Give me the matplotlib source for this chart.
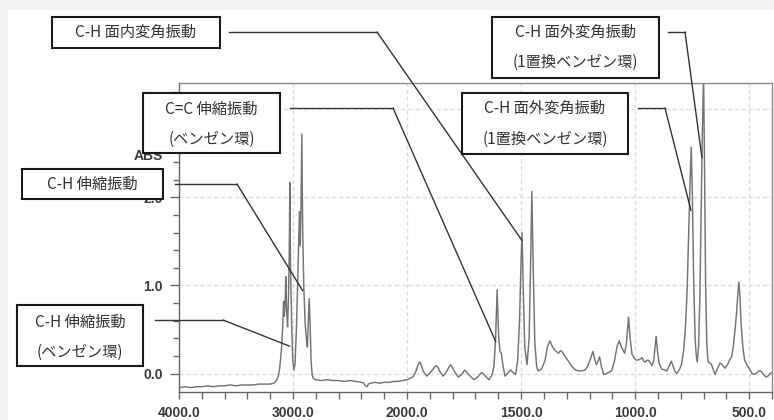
import numpy as np
import matplotlib.pyplot as plt
from matplotlib.patches import Rectangle
from matplotlib.lines import Line2D
from matplotlib.ticker import FixedLocator, FixedFormatter

# spectrum (wavenumber cm-1, absorbance)
wavenumber = [4000, 3950, 3900, 3850, 3800, 3750, 3700, 3650, 3600, 3550, 3500, 3450, 3400, 3350, 3300,
              3250, 3200, 3170, 3150, 3135, 3120, 3110, 3100, 3090, 3083, 3076, 3070, 3063, 3056, 3048,
              3040, 3033, 3028, 3022, 3012, 3002, 2993, 2983, 2972, 2962, 2950, 2944, 2937, 2930, 2923,
              2915, 2905, 2893, 2880, 2874, 2866, 2858, 2850, 2842, 2832, 2820, 2800, 2750, 2700, 2650,
              2600, 2550, 2500, 2450, 2400, 2380, 2365, 2350, 2340, 2320, 2280, 2240, 2200, 2150, 2122,
              2080, 2040, 2000, 1975, 1962, 1952, 1944, 1937, 1930, 1914, 1895, 1880, 1872, 1864, 1858,
              1842, 1825, 1815, 1809, 1802, 1792, 1775, 1760, 1750, 1746, 1740, 1727, 1707, 1690, 1678,
              1673, 1667, 1657, 1641, 1628, 1619, 1612, 1605, 1599, 1593, 1587, 1580, 1571, 1560, 1546,
              1535, 1524, 1515, 1507, 1500, 1496, 1491, 1484, 1474, 1465, 1458, 1453, 1447, 1440, 1432,
              1426, 1410, 1395, 1385, 1374, 1362, 1350, 1336, 1328, 1321, 1306, 1290, 1277, 1262, 1248,
              1233, 1219, 1207, 1197, 1185, 1176, 1170, 1163, 1156, 1148, 1138, 1125, 1110, 1102, 1090,
              1080, 1070, 1060, 1046, 1038, 1029, 1022, 1014, 1003, 992, 980, 970, 962, 955, 948,
              941, 933, 926, 918, 913, 908, 902, 895, 883, 872, 861, 852, 842, 833, 825,
              817, 805, 797, 788, 780, 772, 765, 759, 754, 749, 743, 737, 732, 728, 722,
              716, 711, 705, 700, 696, 691, 686, 682, 679, 672, 665, 657, 650, 640, 628,
              618, 606, 595, 585, 577, 570, 566, 560, 555, 550, 545, 540, 535, 528, 520,
              510, 498, 487, 476, 465, 457, 450, 440, 427, 418, 408, 400]
absorbance = [-0.16, -0.15, -0.16, -0.15, -0.15, -0.14, -0.15, -0.14, -0.14, -0.13, -0.14, -0.13, -0.13, -0.13, -0.12,
              -0.12, -0.12, -0.11, -0.09, -0.05, 0.03, 0.15, 0.30, 0.55, 0.82, 0.65, 0.80, 1.10, 0.70, 0.53,
              0.85, 1.40, 2.17, 1.20, 0.55, 0.15, 0.04, 0.10, 0.45, 0.90, 1.50, 1.84, 1.45, 1.90, 2.72,
              1.60, 0.95, 0.55, 0.35, 0.30, 0.60, 0.85, 0.55, 0.15, -0.02, -0.06, -0.07, -0.08, -0.07, -0.08,
              -0.08, -0.09, -0.08, -0.09, -0.10, -0.11, -0.14, -0.15, -0.12, -0.11, -0.10, -0.11, -0.10, -0.10, -0.09,
              -0.09, -0.08, -0.07, -0.04, 0.02, 0.10, 0.13, 0.09, 0.03, -0.03, 0.02, 0.07, 0.09, 0.07, 0.03,
              -0.03, 0.03, 0.08, 0.10, 0.07, 0.02, -0.04, -0.01, 0.03, 0.04, 0.02, -0.02, -0.07, -0.04, 0.00,
              0.01, 0.00, -0.03, -0.07, -0.02, 0.08, 0.40, 0.95, 0.45, 0.25, 0.23, 0.10, -0.03, 0.00, 0.04,
              0.01, -0.01, 0.15, 0.60, 1.30, 1.60, 1.00, 0.30, 0.10, 0.40, 1.30, 2.07, 1.20, 0.35, 0.08,
              0.03, 0.05, 0.15, 0.30, 0.37, 0.30, 0.26, 0.23, 0.26, 0.25, 0.19, 0.13, 0.08, 0.04, 0.03,
              0.03, 0.04, 0.09, 0.16, 0.25, 0.15, 0.10, 0.14, 0.19, 0.08, -0.01, 0.00, 0.02, 0.04, 0.15,
              0.30, 0.37, 0.30, 0.23, 0.35, 0.64, 0.40, 0.22, 0.17, 0.15, 0.16, 0.18, 0.14, 0.13, 0.15,
              0.15, 0.12, 0.09, 0.15, 0.30, 0.42, 0.25, 0.12, 0.05, 0.04, 0.03, 0.08, 0.14, 0.08, 0.02,
              0.00, 0.05, 0.10, 0.25, 0.50, 0.95, 1.60, 2.20, 2.57, 2.00, 1.00, 0.40, 0.20, 0.13, 0.30,
              0.90, 1.80, 2.80, 3.40, 2.40, 1.00, 0.35, 0.18, 0.13, 0.12, 0.10, 0.04, -0.01, 0.05, 0.12,
              0.10, 0.06, 0.10, 0.16, 0.19, 0.30, 0.40, 0.55, 0.70, 0.90, 1.04, 0.85, 0.55, 0.30, 0.15,
              0.10, 0.05, 0.00, -0.01, 0.01, 0.03, 0.03, 0.00, -0.04, -0.03, 0.00, 0.01]

x_major = [4000, 3000, 2000, 1500, 1000, 500]
x_labels = ["4000.0", "3000.0", "2000.0", "1500.0", "1000.0", "500.0"]
y_major = [0, 1, 2, 3]
y_labels = ["0.0", "1.0", "2.0", ""]

# annotation boxes: (lines of text, box left/top/right/bottom px, text line y px)
boxes = [
    (["C-H 面内変角振動"], (52, 17, 220, 48), [32]),
    (["C=C 伸縮振動", "(ベンゼン環)"], (143, 93, 280, 153), [109, 139]),
    (["C-H 伸縮振動"], (22, 169, 163, 199), [184]),
    (["C-H 伸縮振動", "(ベンゼン環)"], (17, 305, 143, 366), [322, 352]),
    (["C-H 面外変角振動", "(1置換ベンゼン環)"], (492, 17, 659, 78), [32, 62]),
    (["C-H 面外変角振動", "(1置換ベンゼン環)"], (462, 93, 628, 154), [108, 139]),
]
# leader lines: start px, knee px, target (wavenumber, absorbance)
leaders = [
    ((229, 32), (377, 32), (1496, 1.51)),
    ((290, 108), (393, 108), (1611, 0.36)),
    ((175, 184), (237, 184), (2915, 0.94)),
    ((155, 320), (223, 320), (3029, 0.31)),
    ((668, 32), (685, 32), (707, 2.45)),
    ((638, 108), (665, 108), (755, 1.85)),
]

W, H = 774, 420
fig = plt.figure(figsize=(7.74, 4.2), dpi=100)
fig.patch.set_facecolor('#f4f4f4')
fig.add_artist(Rectangle((8 / W, 0), (W - 8) / W, (H - 10) / H, transform=fig.transFigure,
                         facecolor='white', edgecolor='none', zorder=-5))

ax = fig.add_axes([179 / W, 1 - 392 / H, (772 - 179) / W, (392 - 83) / H])


# IR style axis: above 2000 cm-1 the scale is halved
def fwd(x):
    x = np.asarray(x, float)
    return np.where(x > 2000, 2000 + (x - 2000) / 2, x)


def inv(u):
    u = np.asarray(u, float)
    return np.where(u > 2000, 2000 + (u - 2000) * 2, u)


ax.set_xscale('function', functions=(fwd, inv))
ax.plot(wavenumber, absorbance, color='#747474', lw=1.05, zorder=2)
ax.set_xlim(4000, 400)
ax.set_ylim(-0.21, 3.30)

x_minor = [v for v in list(range(4000, 2000, -200)) + list(range(2000, 399, -100)) if v not in x_major]
ax.xaxis.set_major_locator(FixedLocator(x_major))
ax.xaxis.set_major_formatter(FixedFormatter(x_labels))
ax.xaxis.set_minor_locator(FixedLocator(x_minor))
ax.yaxis.set_major_locator(FixedLocator(y_major))
ax.yaxis.set_major_formatter(FixedFormatter(y_labels))
ax.yaxis.set_minor_locator(FixedLocator(np.arange(0.2, 3.3, 0.2)))

ax.grid(True, which='major', color='#dcdcdc', lw=1, linestyle=(0, (3, 2)), zorder=0)
ax.set_axisbelow(True)
for s in ax.spines.values():
    s.set_color('#8a8a8a')
    s.set_linewidth(1)
ax.spines['left'].set_color('#666666')
ax.spines['bottom'].set_color('#666666')

ax.tick_params(axis='x', which='both', direction='out', length=5, width=1, color='#666666', pad=5)
ax.tick_params(axis='y', which='major', direction='out', length=6.5, width=1, color='#666666', pad=5)
ax.tick_params(axis='y', which='minor', direction='out', length=4, width=1, color='#666666')
for lab in ax.get_xticklabels() + ax.get_yticklabels():
    lab.set_fontfamily('Liberation Sans')
    lab.set_fontweight('bold')
    lab.set_fontsize(10)
    lab.set_color('#3a3a3a')

fig.text(148 / W, 1 - 156.5 / H, "ABS", ha='center', va='center', fontfamily='Liberation Sans',
         fontweight='bold', fontsize=10, color='#3a3a3a', zorder=2)

for (sx, sy), (kx, ky), (wn, val) in leaders:
    fig.add_artist(Line2D([sx / W, kx / W], [1 - sy / H, 1 - ky / H], transform=fig.transFigure,
                          color='#333333', lw=1.0, zorder=3))
    ax.annotate('', xy=(wn, val), xycoords='data', xytext=(kx, H - ky), textcoords='figure pixels',
                arrowprops=dict(arrowstyle='-', color='#333333', lw=1.0, shrinkA=0, shrinkB=0),
                annotation_clip=False, zorder=3)

for lines, (l, t, r, b), ys in boxes:
    fig.add_artist(Rectangle((l / W, 1 - b / H), (r - l) / W, (b - t) / H, transform=fig.transFigure,
                             facecolor='white', edgecolor='#1a1a1a', lw=1.5, zorder=4))
    for txt, y in zip(lines, ys):
        fig.text((l + r) / 2 / W, 1 - y / H, txt, ha='center', va='center', fontsize=11, color='#333333',
                 family=['Noto Sans CJK JP', 'DejaVu Sans'], zorder=5)

fig.savefig('out.png', dpi=100)
